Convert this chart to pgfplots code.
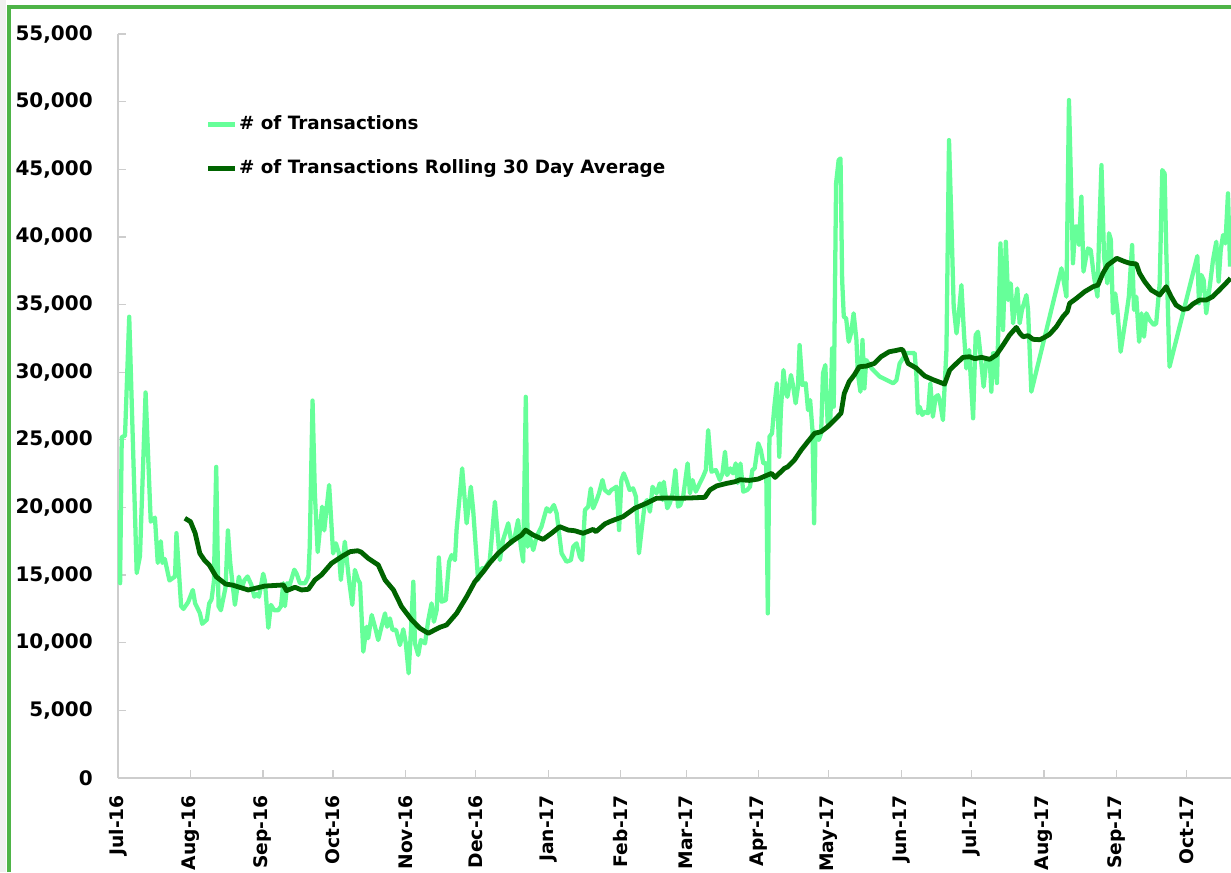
\documentclass[border=0pt]{standalone}
\usepackage{fontspec}
\setmainfont{DejaVu Sans}
\usepackage{pgfplots}
\pgfplotsset{compat=1.18}
\definecolor{lightg}{RGB}{102,255,153}
\definecolor{darkg}{RGB}{0,100,0}
\definecolor{bordg}{RGB}{78,180,72}
\definecolor{axgray}{RGB}{205,205,205}
\begin{document}
\begin{tikzpicture}
\useasboundingbox (-88.5pt,-70.5pt) rectangle (834.75pt,583.5pt);
\fill[white] (-88.5pt,-70.5pt) rectangle (834.75pt,583.5pt);
\begin{axis}[
  at={(0pt,0pt)}, anchor=south west,
  scale only axis, width=834.75pt, height=558pt,
  xmin=0, xmax=476, ymin=0, ymax=55000,
  axis x line=bottom, axis y line=left,
  axis line style={-, draw=axgray, line width=1.2pt},
  tick style={draw=axgray, line width=1pt},
  major tick length=6pt, tick align=inside,
  ytick={0,5000,...,55000},
  scaled y ticks=false,
  /pgf/number format/assume math mode=true,
  yticklabel style={/pgf/number format/.cd, 1000 sep={,}},
  xtick={0,31,62,92,123,153,184,215,243,274,304,335,365,396,427,457},
  xticklabels={Jul-16,Aug-16,Sep-16,Oct-16,Nov-16,Dec-16,Jan-17,Feb-17,Mar-17,Apr-17,May-17,Jun-17,Jul-17,Aug-17,Sep-17,Oct-17},
  tick label style={inner sep=0pt, font=\bfseries\fontsize{15}{18}\selectfont},
  x tick label style={rotate=90, anchor=east, font=\bfseries\fontsize{14}{17}\selectfont},
  xticklabel shift=12.75pt,
  yticklabel shift=18.75pt,
  legend style={draw=none, fill=none, at={(axis description cs:0.079,0.893)}, anchor=north west,
    font=\bfseries\fontsize{13.75}{16}\selectfont, row sep=17pt, inner sep=0pt,
    nodes={inner sep=1.5pt, text height=10pt, text depth=3pt}},
  legend cell align=left,
  legend image code/.code={\draw[#1, line width=3.2pt] (0pt,0pt) -- (20pt,0pt);},
]
\addplot[color=lightg, line width=3.2pt, line join=round, mark=none] coordinates {
(0,19800)(0.9,14400)(1.6,25200)(3,25300)(4.8,34100)(8,15150)(9.4,16400)(11.8,28500)(14,18950)(15.8,19250)
(17,15900)(18.3,17500)(19,15900)(20,16200)(22,14600)(24.4,14900)(25,18100)(27,12700)(28,12500)(30,13000)
(32,13900)(33,12900)(35,12200)(36,11400)(38,11700)(39,12900)(40,13200)(41,14500)(42,23000)(43,12700)
(44,12400)(46,14100)(47,18300)(48,15900)(50,12800)(51.7,14880)(52.9,14020)(54,14600)(55.4,14900)(57,14300)
(58.3,13400)(59.3,13600)(60.3,13400)(62.1,15100)(62.8,14600)(64.3,11100)(65.4,12800)(66.8,12400)(68.5,12400)(69.7,12700)
(70.7,14400)(71.4,12700)(72.4,14400)(73.5,14300)(75.4,15400)(76.4,15100)(77.8,14400)(80,14400)(81.4,14900)(82,17100)
(83.2,27900)(84.2,21000)(85.4,16700)(87.3,20060)(88.2,18300)(90.3,21660)(92,16600)(93.2,17350)(94.5,16600)(95.3,14640)
(97,17470)(98.8,14640)(100.2,12800)(101.3,15380)(102.7,14640)(103.5,14400)(104.9,9340)(106.3,11180)(107,10330)(108.5,12050)
(109.9,11180)(111.3,10200)(112.7,11180)(114.2,12170)(115.1,11180)(116.3,11800)(117.4,10950)(118.9,10950)(120.6,9830)(122,10990)
(123.1,9950)(124.3,7740)(125.3,10950)(126.3,14510)(127,9950)(128.4,9090)(129.5,10200)(131.3,9950)(132.7,11680)(134.1,12910)
(135.1,11550)(136.3,12420)(137.2,16300)(138.4,13030)(140.2,13150)(141.6,15990)(142.7,16480)(144.1,16110)(144.8,18340)(147.2,22890)
(149.1,18830)(150.9,21530)(151.9,19800)(154,14640)(155.5,15500)(157,15500)(159,16100)(161.2,20420)(163.3,16110)(164.7,17600)
(166.9,18830)(168.3,17350)(169.7,17840)(171.1,19070)(172.3,17100)(173.3,15990)(174.4,28180)(175.2,17100)(176.1,17840)(177.6,16850)
(179,17840)(181.1,18580)(183.3,19940)(184.7,19690)(186.4,20180)(187.6,19570)(189.7,16610)(191.8,15990)(193.7,16110)(194.7,17100)
(196.1,17350)(197.5,16360)(198.5,16110)(199.7,19810)(201.1,20060)(202.2,21410)(203.2,19940)(204.7,20550)(205.7,21040)(207.2,22030)
(208.2,21290)(209.9,21040)(211,21300)(212.2,21410)(213.2,21540)(214.3,18330)(215.3,22030)(216.3,22520)(217.7,21900)(218.8,21290)
(220.3,21410)(221.5,20800)(222.8,16610)(224.1,18580)(225.3,20310)(226.3,20550)(227.5,19690)(228.6,21530)(230.3,21040)(231.7,21780)
(232.9,20550)(233.4,21900)(234.9,19940)(236,20310)(237.2,21040)(238.4,22770)(239.5,20060)(240.5,20180)(241.7,20800)(243.6,23260)
(244.6,21040)(245.7,22030)(247.1,21170)(248.8,21780)(250.2,22270)(251.4,22770)(252.4,25720)(253.8,22640)(255.7,22770)(257.4,22030)
(258.5,22520)(259.6,24120)(260.5,22390)(261.9,22890)(263,22520)(264.2,23260)(265,21800)(266.2,23250)(267.4,21170)(269.1,21290)
(270.3,21540)(271.3,22770)(272.3,22890)(273.8,24740)(274.9,24250)(276,23260)(277.2,23260)(277.9,12170)(278.6,25230)(279.7,25480)
(280.7,27450)(281.8,29180)(282.8,23750)(283.5,27200)(284.6,30160)(285.6,28430)(286.3,28180)(287.8,29790)(288.8,28920)(289.8,27700)
(290.8,28920)(291.5,32000)(292.7,29050)(294.1,29180)(295.1,27200)(296,27940)(297,25720)(297.7,18830)(298.3,25600)(299.7,24990)
(300.7,25480)(301.5,29920)(302.5,30530)(303.5,26220)(304.7,26710)(305.4,31760)(306.1,27450)(307.1,43960)(308.2,45680)(309,45800)
(309.7,36810)(310.4,34100)(311.4,33980)(312.5,32250)(313.5,32880)(314.6,34350)(315.8,32380)(316.4,29920)(317.5,28560)(318.4,32380)
(319.2,28800)(320,30900)(322.2,30300)(325.8,29670)(331.5,29180)(332.9,29400)(334.3,30650)(337.2,31410)(340.7,31410)(341.4,29920)
(342.1,26960)(342.8,27450)(344,26840)(345,27080)(346.4,26960)(347.4,29180)(348.5,26710)(349.7,28180)(350.7,28300)(351.4,27940)
(352.8,26460)(354.3,31640)(355.4,47160)(356.4,41250)(357.4,34840)(358.6,32870)(359.6,34350)(360.7,36440)(361.8,32870)(362.8,30280)
(364,31640)(365.7,26590)(366.8,32750)(367.8,32990)(368.8,31390)(370.2,28920)(371.4,30900)(372.8,30900)(373.5,28560)(374.2,31390)
(374.9,31390)(375.9,29200)(377.4,39520)(378.5,33120)(379.7,39640)(380.7,35330)(381.8,36570)(382.8,33610)(384.6,36190)(385.6,33610)
(386.6,34600)(388.5,35700)(389.2,34600)(390.6,28560)(403.5,37680)(405.6,35580)(406.7,50120)(408.4,38050)(409.4,40760)(410.3,40760)
(411,39400)(412,42970)(412.9,37430)(413.8,38300)(414.8,39150)(416,39030)(417.4,37060)(418.9,35580)(419.6,40270)(420.6,45310)
(421.7,38540)(423.1,36570)(423.8,40270)(424.6,39800)(425.5,34350)(426.5,35820)(427.4,34600)(428.8,31510)(431.3,34350)(432.3,35580)
(433.7,39400)(434.5,34600)(435.5,35580)(436.7,32250)(437.7,34350)(438.8,32620)(439.8,34350)(441.2,33860)(443,33490)(444,33610)
(445.5,36570)(446.6,44940)(447.6,44690)(448.3,39030)(449.7,30400)(461.6,38590)(462.3,35090)(463.3,37190)(464.3,36810)(465.4,34350)
(466.9,36320)(468.3,38290)(469.7,39640)(470.7,36700)(471.6,39030)(472.6,40140)(473.6,39520)(474.7,43220)(475.6,37800)
};
\addplot[color=darkg, line width=3.6pt, line join=round, mark=none] coordinates {
(28.6,19200)(31,18950)(33,18100)(35,16600)(37,16100)(39,15750)(42,14880)(46,14340)(49,14260)(52,14100)
(55.7,13900)(62.8,14190)(70.7,14270)(72.1,13850)(75.7,14100)(78.5,13900)(81.4,13950)(84.2,14640)(87,15010)(91.3,15870)
(95.6,16360)(99.2,16730)(102.5,16800)(104,16700)(107,16240)(111.3,15750)(114.2,14640)(117.8,13900)(121.3,12660)(125.6,11680)
(129.1,11070)(132.7,10700)(137.6,11140)(140.5,11310)(144.8,12170)(149.1,13400)(152.6,14510)(156.2,15250)(159,15900)(162.6,16610)
(168.3,17470)(172.6,17960)(174.3,18330)(177.6,17960)(181.8,17640)(185.4,18090)(188.9,18580)(192.5,18330)(195.3,18280)(198.9,18090)
(203.2,18380)(204.4,18210)(208.2,18780)(210.3,18950)(212.5,19100)(216,19320)(221,19940)(226,20310)(230.3,20680)(235.3,20700)
(240.3,20680)(244.6,20700)(251,20750)(253.1,21290)(256,21590)(260.3,21780)(263.8,21900)(266,22050)(270,22000)(273.8,22100)
(276.7,22320)(279.5,22520)(281,22220)(285,22890)(286.4,23000)(289.3,23510)(292.2,24250)(295,24860)(297.9,25480)(300.7,25600)
(303.5,25970)(306.4,26460)(309.2,26960)(310.6,28430)(312.7,29300)(314.9,29800)(317,30400)(320,30450)(323.5,30650)(326.3,31140)
(329.8,31510)(332.6,31600)(335,31690)(335.7,31620)(337.9,30650)(341.4,30300)(345,29720)(348.5,29450)(353.5,29120)(355.7,30160)
(358.6,30650)(361.4,31100)(364.2,31140)(366.4,31000)(369.3,31100)(372.8,30950)(375.6,31270)(378.5,32000)(381.3,32750)(384.2,33310)
(385.6,32900)(387.1,32620)(389.2,32700)(391.3,32430)(394.2,32400)(396.3,32580)(398.4,32800)(401.3,33360)(404.1,34100)(406,34470)
(407,35090)(409.9,35460)(413.4,35950)(417,36320)(419.1,36440)(421.2,37310)(423.3,37920)(426.2,38290)(427.1,38420)(430.6,38170)
(432.8,38050)(435.5,38000)(436.9,37310)(439.1,36690)(441.9,36070)(445.5,35700)(448.3,36320)(450.4,35580)(452.5,34960)(455.4,34640)
(457.5,34700)(459.7,35040)(462.5,35330)(465.4,35330)(468.1,35580)(471,36070)(473.8,36570)(475.8,36940)
};
\legend{\# of Transactions, \# of Transactions Rolling 30 Day Average}
\end{axis}
\fill[gray!12] (-88.5pt,-70.5pt) rectangle (-84pt,583.5pt);
\draw[bordg, line width=3pt] (-82pt,-70.5pt) -- (-82pt,578.5pt) -- (834.75pt,578.5pt);
\end{tikzpicture}
\end{document}
